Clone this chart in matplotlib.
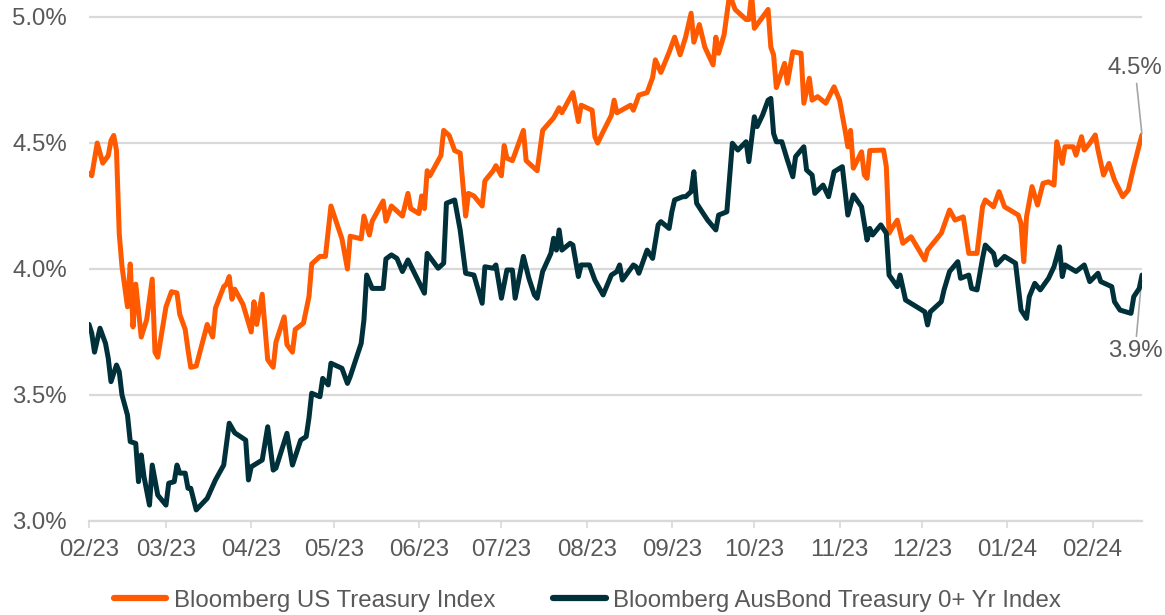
import matplotlib
matplotlib.use("Agg")
import matplotlib.pyplot as plt
import pandas as pd

# ---------------- data ----------------
us_dates = [
    "2023-02-01", "2023-02-02", "2023-02-04", "2023-02-06", "2023-02-08", "2023-02-09", "2023-02-10",
    "2023-02-11", "2023-02-12", "2023-02-13", "2023-02-15", "2023-02-16", "2023-02-17", "2023-02-18",
    "2023-02-20", "2023-02-22", "2023-02-24", "2023-02-25", "2023-02-26",
    "2023-03-01", "2023-03-03", "2023-03-05", "2023-03-06", "2023-03-08", "2023-03-09", "2023-03-10",
    "2023-03-12", "2023-03-16", "2023-03-18", "2023-03-19", "2023-03-22", "2023-03-23", "2023-03-24",
    "2023-03-25", "2023-03-26", "2023-03-29",
    "2023-04-01", "2023-04-02", "2023-04-03", "2023-04-05", "2023-04-07", "2023-04-09", "2023-04-10",
    "2023-04-13", "2023-04-14", "2023-04-16", "2023-04-17", "2023-04-20", "2023-04-22", "2023-04-23",
    "2023-04-26", "2023-04-28", "2023-04-30",
    "2023-05-04", "2023-05-06", "2023-05-07", "2023-05-11", "2023-05-12", "2023-05-14", "2023-05-15",
    "2023-05-19", "2023-05-20", "2023-05-22", "2023-05-26", "2023-05-28", "2023-05-29",
    "2023-06-01", "2023-06-02", "2023-06-03", "2023-06-04", "2023-06-05", "2023-06-07", "2023-06-09",
    "2023-06-10", "2023-06-12", "2023-06-14", "2023-06-16", "2023-06-18", "2023-06-19", "2023-06-21",
    "2023-06-24", "2023-06-25", "2023-06-28", "2023-06-29",
    "2023-07-01", "2023-07-02", "2023-07-03", "2023-07-05", "2023-07-07", "2023-07-09", "2023-07-10",
    "2023-07-13", "2023-07-14", "2023-07-16", "2023-07-20", "2023-07-22", "2023-07-23", "2023-07-26",
    "2023-07-27", "2023-07-29", "2023-07-30",
    "2023-08-03", "2023-08-04", "2023-08-05", "2023-08-07", "2023-08-10", "2023-08-11", "2023-08-12",
    "2023-08-17", "2023-08-18", "2023-08-20", "2023-08-23", "2023-08-25", "2023-08-26", "2023-08-28",
    "2023-08-31",
    "2023-09-02", "2023-09-04", "2023-09-06", "2023-09-08", "2023-09-09", "2023-09-11", "2023-09-13",
    "2023-09-16", "2023-09-17", "2023-09-18", "2023-09-20", "2023-09-22", "2023-09-24", "2023-09-28",
    "2023-09-29", "2023-09-30",
    "2023-10-01", "2023-10-06", "2023-10-07", "2023-10-08", "2023-10-09", "2023-10-12", "2023-10-13",
    "2023-10-15", "2023-10-18", "2023-10-19", "2023-10-21", "2023-10-22", "2023-10-24", "2023-10-27",
    "2023-10-30",
    "2023-11-01", "2023-11-03", "2023-11-04", "2023-11-05", "2023-11-06", "2023-11-09", "2023-11-10",
    "2023-11-11", "2023-11-12", "2023-11-17", "2023-11-18", "2023-11-19", "2023-11-20", "2023-11-22",
    "2023-11-24", "2023-11-27",
    "2023-12-02", "2023-12-03", "2023-12-08", "2023-12-11", "2023-12-13", "2023-12-16", "2023-12-18",
    "2023-12-21", "2023-12-23", "2023-12-24", "2023-12-27", "2023-12-29", "2023-12-31",
    "2024-01-05", "2024-01-06", "2024-01-07", "2024-01-08", "2024-01-10", "2024-01-12", "2024-01-14",
    "2024-01-16", "2024-01-18", "2024-01-19", "2024-01-21", "2024-01-22", "2024-01-25", "2024-01-26",
    "2024-01-28", "2024-01-29", "2024-01-31",
    "2024-02-02", "2024-02-03", "2024-02-05", "2024-02-07", "2024-02-09", "2024-02-12", "2024-02-14",
    "2024-02-16", "2024-02-18", "2024-02-19",
]
us_vals = [
    4.38, 4.37, 4.50, 4.42, 4.45, 4.51, 4.53, 4.47, 4.14, 4.01, 3.85, 4.02, 3.77, 3.94, 3.73, 3.80,
    3.96, 3.67, 3.65,
    3.85, 3.91, 3.905, 3.82, 3.76, 3.68, 3.61, 3.615, 3.78, 3.73, 3.845, 3.93, 3.94, 3.97, 3.88,
    3.92, 3.86,
    3.75, 3.87, 3.78, 3.90, 3.64, 3.61, 3.71, 3.81, 3.70, 3.67, 3.76, 3.785, 3.89, 4.02, 4.05,
    4.05, 4.25,
    4.12, 4.00, 4.13, 4.12, 4.21, 4.135, 4.19, 4.27, 4.19, 4.25, 4.21, 4.30, 4.24,
    4.22, 4.29, 4.24, 4.39, 4.37, 4.41, 4.45, 4.55, 4.53, 4.47, 4.46, 4.21, 4.30, 4.29, 4.25,
    4.35, 4.39, 4.41,
    4.37, 4.49, 4.44, 4.43, 4.49, 4.55, 4.43, 4.40, 4.39, 4.55, 4.60, 4.64, 4.62, 4.68, 4.70,
    4.585, 4.65,
    4.63, 4.525, 4.50, 4.545, 4.61, 4.67, 4.62, 4.65, 4.63, 4.69, 4.70, 4.76, 4.83, 4.78, 4.86,
    4.92, 4.85, 4.92, 5.015, 4.90, 4.97, 4.88, 4.81, 4.92, 4.856, 4.93, 5.09, 5.03, 4.99, 4.99,
    5.09,
    4.955, 5.03, 4.88, 4.85, 4.72, 4.816, 4.737, 4.862, 4.856, 4.658, 4.757, 4.67, 4.684, 4.658,
    4.723,
    4.67, 4.55, 4.485, 4.55, 4.40, 4.465, 4.373, 4.36, 4.47, 4.472, 4.406, 4.142, 4.161, 4.194,
    4.102, 4.128,
    4.036, 4.075, 4.142, 4.234, 4.194, 4.207, 4.062, 4.062, 4.247, 4.274, 4.247, 4.307, 4.247,
    4.214, 4.181, 4.029, 4.207, 4.327, 4.254, 4.34, 4.346, 4.333, 4.505, 4.419, 4.485, 4.485,
    4.452, 4.525, 4.472, 4.499,
    4.532, 4.472, 4.373, 4.419, 4.353, 4.287, 4.313, 4.406, 4.492, 4.532,
]

aus_dates = [
    "2023-02-01", "2023-02-02", "2023-02-03", "2023-02-05", "2023-02-07", "2023-02-08", "2023-02-09",
    "2023-02-11", "2023-02-12", "2023-02-13", "2023-02-15", "2023-02-16", "2023-02-18", "2023-02-19",
    "2023-02-20", "2023-02-21", "2023-02-23", "2023-02-24", "2023-02-26",
    "2023-03-01", "2023-03-02", "2023-03-04", "2023-03-05", "2023-03-06", "2023-03-08", "2023-03-09",
    "2023-03-10", "2023-03-12", "2023-03-16", "2023-03-19", "2023-03-22", "2023-03-24", "2023-03-26",
    "2023-03-30", "2023-03-31",
    "2023-04-01", "2023-04-05", "2023-04-07", "2023-04-09", "2023-04-10", "2023-04-14", "2023-04-16",
    "2023-04-19", "2023-04-21", "2023-04-22", "2023-04-23", "2023-04-26", "2023-04-27", "2023-04-29",
    "2023-04-30",
    "2023-05-04", "2023-05-06", "2023-05-07", "2023-05-11", "2023-05-12", "2023-05-13", "2023-05-15",
    "2023-05-19", "2023-05-20", "2023-05-22", "2023-05-24", "2023-05-26", "2023-05-28", "2023-05-31",
    "2023-06-03", "2023-06-04", "2023-06-08", "2023-06-10", "2023-06-11", "2023-06-14", "2023-06-16",
    "2023-06-18", "2023-06-21", "2023-06-24", "2023-06-25", "2023-06-28", "2023-06-29",
    "2023-07-01", "2023-07-03", "2023-07-05", "2023-07-06", "2023-07-09", "2023-07-11", "2023-07-13",
    "2023-07-14", "2023-07-16", "2023-07-19", "2023-07-20", "2023-07-21", "2023-07-22", "2023-07-23",
    "2023-07-26", "2023-07-27", "2023-07-29", "2023-07-30",
    "2023-08-02", "2023-08-04", "2023-08-07", "2023-08-10", "2023-08-12", "2023-08-13", "2023-08-14",
    "2023-08-18", "2023-08-19", "2023-08-20", "2023-08-23", "2023-08-25", "2023-08-27", "2023-08-28",
    "2023-08-31",
    "2023-09-01", "2023-09-02", "2023-09-05", "2023-09-06", "2023-09-08", "2023-09-09", "2023-09-10",
    "2023-09-12", "2023-09-14", "2023-09-17", "2023-09-18", "2023-09-21", "2023-09-23", "2023-09-25",
    "2023-09-28", "2023-09-29",
    "2023-10-01", "2023-10-02", "2023-10-04", "2023-10-06", "2023-10-07", "2023-10-08", "2023-10-09",
    "2023-10-11", "2023-10-13", "2023-10-15", "2023-10-16", "2023-10-19", "2023-10-20", "2023-10-22",
    "2023-10-23", "2023-10-26", "2023-10-28", "2023-10-30",
    "2023-11-02", "2023-11-04", "2023-11-06", "2023-11-09", "2023-11-11", "2023-11-12", "2023-11-13",
    "2023-11-16", "2023-11-18", "2023-11-19", "2023-11-22", "2023-11-23", "2023-11-25", "2023-11-29",
    "2023-12-02", "2023-12-03", "2023-12-04", "2023-12-08", "2023-12-09", "2023-12-11", "2023-12-14",
    "2023-12-15", "2023-12-18", "2023-12-19", "2023-12-21", "2023-12-23", "2023-12-24", "2023-12-27",
    "2023-12-28", "2023-12-31",
    "2024-01-04", "2024-01-06", "2024-01-08", "2024-01-09", "2024-01-11", "2024-01-13", "2024-01-16",
    "2024-01-18", "2024-01-20", "2024-01-21", "2024-01-22", "2024-01-26", "2024-01-29", "2024-01-31",
    "2024-02-03", "2024-02-04", "2024-02-08", "2024-02-09", "2024-02-11", "2024-02-15", "2024-02-16",
    "2024-02-18", "2024-02-19",
]
aus_vals = [
    3.78, 3.745, 3.67, 3.765, 3.705, 3.646, 3.553, 3.619, 3.592, 3.50, 3.42, 3.315, 3.308, 3.156,
    3.262, 3.176, 3.063, 3.222, 3.103,
    3.063, 3.15, 3.156, 3.222, 3.19, 3.19, 3.13, 3.13, 3.044, 3.09, 3.163, 3.222, 3.388, 3.35,
    3.321, 3.163,
    3.215, 3.242, 3.374, 3.202, 3.21, 3.348, 3.222, 3.321, 3.335, 3.408, 3.507, 3.493, 3.566,
    3.54, 3.626,
    3.606, 3.546, 3.573, 3.705, 3.798, 3.976, 3.923, 3.923, 4.04, 4.056, 4.042, 3.99, 4.036, 3.97,
    3.904, 4.062, 4.003, 4.023, 4.261, 4.274, 4.155, 3.983, 3.976, 3.864, 4.009, 4.003, 4.016,
    3.884, 3.996, 3.996, 3.884, 4.05, 3.963, 3.897, 3.884, 3.99, 4.062, 4.122, 4.075, 4.155,
    4.075, 4.102, 4.095, 3.97, 4.016,
    4.016, 3.956, 3.897, 3.976, 3.99, 4.016, 3.956, 4.016, 4.009, 3.983, 4.075, 4.042, 4.175,
    4.188, 4.161,
    4.227, 4.274, 4.287, 4.287, 4.307, 4.386, 4.261, 4.227, 4.194, 4.155, 4.214, 4.227, 4.499,
    4.472, 4.505, 4.426,
    4.604, 4.565, 4.611, 4.67, 4.677, 4.538, 4.505, 4.505, 4.433, 4.366, 4.446, 4.485, 4.393,
    4.373, 4.30, 4.333, 4.287, 4.386,
    4.406, 4.214, 4.294, 4.247, 4.115, 4.161, 4.135, 4.175, 4.142, 3.976, 3.93, 3.976, 3.877, 3.85,
    3.83, 3.778, 3.83, 3.87, 3.917, 3.99, 4.029, 3.963, 3.976, 3.923, 3.917, 4.042, 4.095, 4.062,
    4.016, 4.05,
    4.023, 3.837, 3.804, 3.89, 3.943, 3.917, 3.963, 4.009, 4.088, 3.97, 4.016, 3.99, 4.016, 3.95,
    3.983, 3.95, 3.93, 3.87, 3.837, 3.824, 3.89, 3.923, 3.976,
]

series_names = ["Bloomberg US Treasury Index", "Bloomberg AusBond Treasury 0+ Yr Index"]
end_labels = ["4.5%", "3.9%"]
y_ticks = [3.0, 3.5, 4.0, 4.5, 5.0]
month_ticks = pd.date_range("2023-02-01", "2024-02-01", freq="MS")

# ---------------- style ----------------
US_COLOR = "#FF5A00"
AUS_COLOR = "#00303A"
TEXT_COLOR = "#595959"
GRID_COLOR = "#d9d9d9"
FS = 17.3

plt.rcParams["font.family"] = ["Liberation Sans", "DejaVu Sans"]

W, H = 1165, 615
fig = plt.figure(figsize=(W / 100, H / 100), dpi=100)
left, right, top, bottom = 89, 1142, 0, 521
ax = fig.add_axes([left / W, 1 - bottom / H, (right - left) / W, (bottom - top) / H])

us_x = pd.to_datetime(us_dates)
aus_x = pd.to_datetime(aus_dates)

(l1,) = ax.plot(us_x, us_vals, color=US_COLOR, lw=3.6, solid_joinstyle="round",
                solid_capstyle="round", label=series_names[0], zorder=3)
(l2,) = ax.plot(aus_x, aus_vals, color=AUS_COLOR, lw=3.6, solid_joinstyle="round",
                solid_capstyle="round", label=series_names[1], zorder=4)

# y-axis: 5.0% gridline sits 17px below the top edge
px_per_unit = (bottom - 17) / (5.0 - 3.0)
ax.set_ylim(3.0, 5.0 + 17 / px_per_unit)
ax.set_yticks(y_ticks)
ax.set_yticklabels([f"{v:.1f}%" for v in y_ticks])
ax.set_xlim(us_x[0], us_x[-1])
ax.set_xticks(month_ticks)
ax.set_xticklabels([d.strftime("%m/%y") for d in month_ticks])

ax.yaxis.grid(True, color=GRID_COLOR, lw=1.6)
ax.set_axisbelow(True)
for s in ["top", "right", "left"]:
    ax.spines[s].set_visible(False)
ax.spines["bottom"].set_color(GRID_COLOR)
ax.spines["bottom"].set_linewidth(1.6)

ax.tick_params(axis="y", length=0, pad=16, labelsize=FS, labelcolor=TEXT_COLOR)
ax.tick_params(axis="x", length=5, width=1.2, color=GRID_COLOR, pad=8,
               labelsize=FS, labelcolor=TEXT_COLOR)

# end labels
ax.annotate(end_labels[0], xy=(us_x[-1], us_vals[-1]), xytext=(-5, 48),
            textcoords="offset points", ha="center", va="center", fontsize=FS,
            color=TEXT_COLOR,
            arrowprops=dict(arrowstyle="-", color="#a6a6a6", lw=1.2, shrinkA=1, shrinkB=1))
ax.annotate(end_labels[1], xy=(aus_x[-1], aus_vals[-1]), xytext=(-5, -55),
            textcoords="offset points", ha="center", va="center", fontsize=FS,
            color=TEXT_COLOR,
            arrowprops=dict(arrowstyle="-", color="#a6a6a6", lw=1.2, shrinkA=1, shrinkB=4))

leg = fig.legend(handles=[l1, l2], loc="center", bbox_to_anchor=(0.504, 0.023), ncol=2,
                 frameon=False, fontsize=FS, handlelength=2.2, handletextpad=0.3,
                 columnspacing=2.4, labelcolor=TEXT_COLOR)
for h in leg.legend_handles:
    h.set_linewidth(4.5)
    h.set_solid_capstyle("round")

fig.savefig("out.png", dpi=100)
